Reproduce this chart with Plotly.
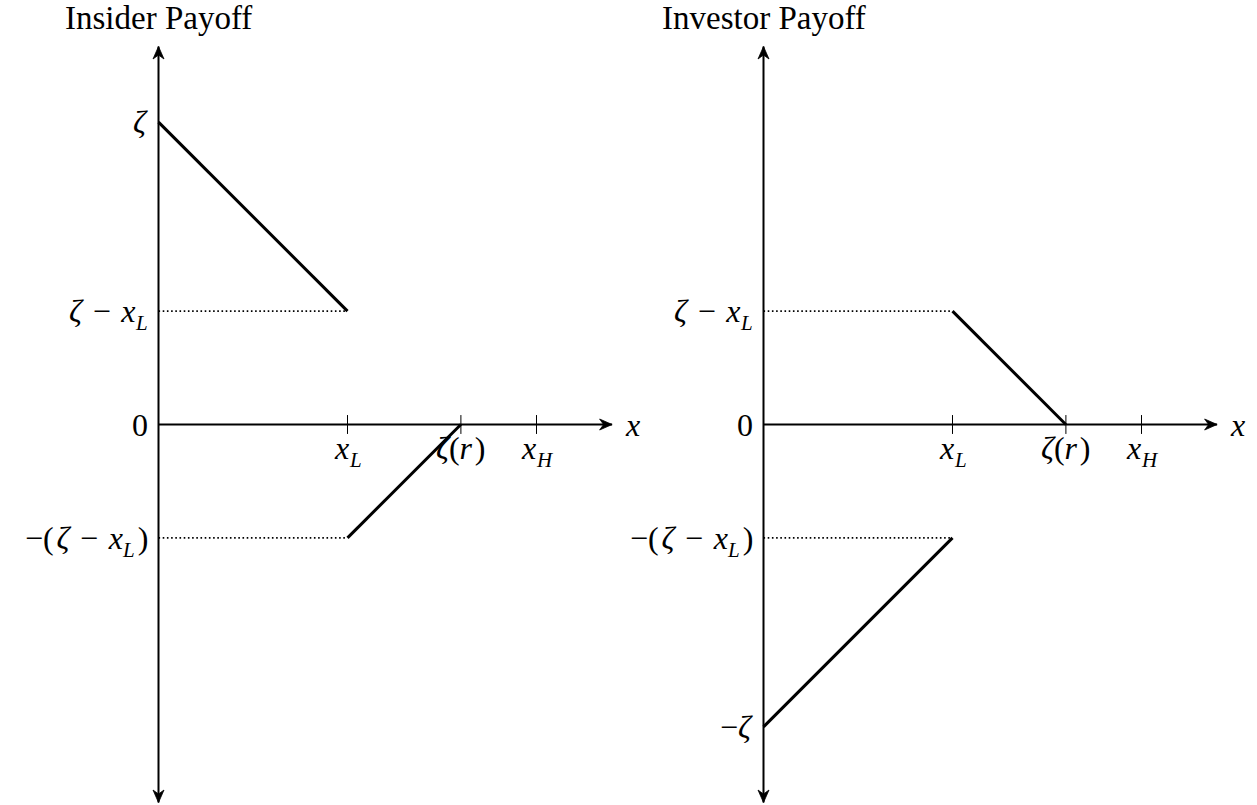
import plotly.graph_objects as go

# ---- data (diagram units, 1 unit = 1 cm) ----
ZETA = 8.0
X_L = 5.0
X_H = 10.0

panel_titles = ["Insider Payoff", "Investor Payoff"]

x_tick_values = [X_L, ZETA, X_H]
# labels as (main text, subscript) pairs
x_tick_labels = [("<i>x</i>", "L"), ("<i>ζ</i>(<i>r</i>\u200a)", ""), ("<i>x</i>", "H")]

insider_seg1_x = [0.0, X_L]
insider_seg1_y = [ZETA, ZETA - X_L]
insider_seg2_x = [X_L, ZETA]
insider_seg2_y = [-(ZETA - X_L), 0.0]

investor_seg1_x = [X_L, ZETA]
investor_seg1_y = [ZETA - X_L, 0.0]
investor_seg2_x = [0.0, X_L]
investor_seg2_y = [-ZETA, -(ZETA - X_L)]

SP = " \u200a"  # math spacing around binary minus
LBL_ZETA = ("<i>ζ</i>", "", "")
LBL_ZMX = (f"<i>ζ</i>{SP}−{SP}<i>x</i>", "L", "")
LBL_ZERO = ("0", "", "")
LBL_NEG_ZMX = (f"−(\u200a<i>ζ</i>{SP}−{SP}<i>x</i>", "L", "\u200a)")
LBL_NEG_ZETA = ("−<i>ζ</i>", "", "")

insider_y_ticks = [ZETA, ZETA - X_L, 0.0, -(ZETA - X_L)]
insider_y_labels = [LBL_ZETA, LBL_ZMX, LBL_ZERO, LBL_NEG_ZMX]
investor_y_ticks = [ZETA - X_L, 0.0, -(ZETA - X_L), -ZETA]
investor_y_labels = [LBL_ZMX, LBL_ZERO, LBL_NEG_ZMX, LBL_NEG_ZETA]

insider_dotted_levels = [ZETA - X_L, -(ZETA - X_L)]
investor_dotted_levels = [ZETA - X_L, -(ZETA - X_L)]

AXIS_X_MAX = 12.0
AXIS_Y_MAX = 10.0
AXIS_Y_MIN = -10.0

# ---- layout geometry ----
W, H = 1257, 805
PX = 37.8  # pixels per unit
ORIG_Y = 424.5
LEFT_ORIG = 158.5
RIGHT_ORIG = 763.5
HALF = W / 2

FONT = "Liberation Serif"
LBL = 32
SUB = 21
SUB_DY = -12          # subscript offset (px) relative to main text centre
TICK_DY = -23         # tick-label centre below x axis (px)
SUB_W = {"L": 11.7, "H": 15.2}
CLOSE_W = 13.0
X_W = 14.2

HEAD_RIGHT = "M0,0 L-12.5,-5.5 L-8.5,0 L-12.5,5.5 Z"
HEAD_UP = "M0,0 L-5.5,-12.5 L0,-8.5 L5.5,-12.5 Z"
HEAD_DOWN = "M0,0 L-5.5,12.5 L0,8.5 L5.5,12.5 Z"

fig = go.Figure()
annotations = []
shapes = []


def txt(xa, x, y, text, size, xanchor, xshift=0, yshift=0, italic=False):
    if italic:
        text = f"<i>{text}</i>"
    annotations.append(dict(x=x, y=y, xref=xa, yref="y", text=text, showarrow=False,
                            xanchor=xanchor, yanchor="middle", xshift=xshift, yshift=yshift,
                            borderpad=0, borderwidth=0,
                            font=dict(family=FONT, size=size, color="black")))


panels = [
    dict(xa="x", segs=[(insider_seg1_x, insider_seg1_y), (insider_seg2_x, insider_seg2_y)],
         yt=insider_y_ticks, yl=insider_y_labels, dots=insider_dotted_levels, title=panel_titles[0]),
    dict(xa="x2", segs=[(investor_seg1_x, investor_seg1_y), (investor_seg2_x, investor_seg2_y)],
         yt=investor_y_ticks, yl=investor_y_labels, dots=investor_dotted_levels, title=panel_titles[1]),
]

for p in panels:
    xa = p["xa"]
    for lv in p["dots"]:
        fig.add_trace(go.Scatter(x=[0, X_L], y=[lv, lv], mode="lines", xaxis=xa, yaxis="y",
                                 line=dict(color="black", width=1.6, dash="1.6px,2.6px"),
                                 showlegend=False, hoverinfo="skip"))
    fig.add_trace(go.Scatter(x=[0, AXIS_X_MAX], y=[0, 0], mode="lines", xaxis=xa, yaxis="y",
                             line=dict(color="black", width=2), showlegend=False, hoverinfo="skip"))
    fig.add_trace(go.Scatter(x=[0, 0], y=[AXIS_Y_MIN, AXIS_Y_MAX], mode="lines", xaxis=xa, yaxis="y",
                             line=dict(color="black", width=2), showlegend=False, hoverinfo="skip"))
    tx, ty = [], []
    for t in x_tick_values:
        tx += [t, t, None]
        ty += [-0.25, 0.25, None]
    fig.add_trace(go.Scatter(x=tx, y=ty, mode="lines", xaxis=xa, yaxis="y",
                             line=dict(color="black", width=1),
                             showlegend=False, hoverinfo="skip"))
    for sx, sy in p["segs"]:
        fig.add_trace(go.Scatter(x=sx, y=sy, mode="lines", xaxis=xa, yaxis="y",
                                 line=dict(color="black", width=3),
                                 showlegend=False, hoverinfo="skip"))
    for (ax_, ay_, path) in [(AXIS_X_MAX, 0, HEAD_RIGHT), (0, AXIS_Y_MAX, HEAD_UP), (0, AXIS_Y_MIN, HEAD_DOWN)]:
        shapes.append(dict(type="path", xref=xa, yref="y", xsizemode="pixel", ysizemode="pixel",
                           xanchor=ax_, yanchor=ay_, path=path,
                           fillcolor="black", line=dict(color="black", width=0.8), layer="above"))
    txt(xa, AXIS_X_MAX, 0, "<i>x</i>", LBL, "left", xshift=13)
    for t, (main, sub) in zip(x_tick_values, x_tick_labels):
        if sub:
            split = -(X_W + SUB_W[sub]) / 2 + X_W
            txt(xa, t, 0, main, LBL, "right", xshift=split, yshift=TICK_DY)
            txt(xa, t, 0, sub, SUB, "left", xshift=split, yshift=TICK_DY + SUB_DY, italic=True)
        else:
            txt(xa, t, 0, main, LBL, "center", yshift=TICK_DY)
    for t, (main, sub, close) in zip(p["yt"], p["yl"]):
        right = -11
        if close:
            txt(xa, 0, t, close, LBL, "right", xshift=right)
            right -= CLOSE_W
        if sub:
            txt(xa, 0, t, sub, SUB, "right", xshift=right, yshift=SUB_DY, italic=True)
            right -= SUB_W[sub]
        txt(xa, 0, t, main, LBL, "right", xshift=right)
    annotations.append(dict(x=0, y=(ORIG_Y - 18) / PX, xref=xa, yref="y", text=p["title"], showarrow=False,
                            xanchor="center", yanchor="middle",
                            font=dict(family=FONT, size=33, color="black")))

ax_common = dict(visible=False, showgrid=False, zeroline=False, fixedrange=True)
fig.update_layout(
    width=W, height=H, autosize=False,
    margin=dict(l=0, r=0, t=0, b=0, pad=0),
    paper_bgcolor="white", plot_bgcolor="white",
    showlegend=False,
    xaxis=dict(domain=[0, 0.5], range=[-LEFT_ORIG / PX, (HALF - LEFT_ORIG) / PX], **ax_common),
    xaxis2=dict(domain=[0.5, 1], range=[-(RIGHT_ORIG - HALF) / PX, (W - RIGHT_ORIG) / PX], **ax_common),
    yaxis=dict(domain=[0, 1], range=[-(H - ORIG_Y) / PX, ORIG_Y / PX], **ax_common),
    annotations=annotations,
    shapes=shapes,
)

fig.write_html("out.html", config={"displayModeBar": False},
               post_script="document.body.style.margin='0';")
